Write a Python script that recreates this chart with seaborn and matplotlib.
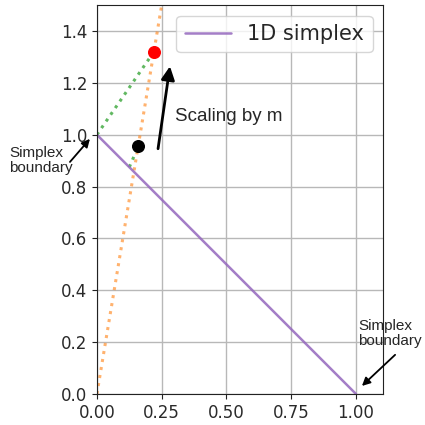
import matplotlib
matplotlib.use('Agg')
from matplotlib import pyplot as plt
import seaborn as sns

# chart values
simplex_x = [0.0, 1.0]
simplex_y = [1.0, 0.0]
ray_x = [0.0, 0.25]
ray_y = [0.0, 1.5]
green_x = [0.0, 0.22]
green_y = [1.0, 1.32]
green2_x = [0.125, 0.16]
green2_y = [0.875, 0.955]
black_pt = (0.16, 0.955)
red_pt = (0.22, 1.32)
x_ticks = [0.0, 0.25, 0.5, 0.75, 1.0]
y_ticks = [0.0, 0.2, 0.4, 0.6, 0.8, 1.0, 1.2, 1.4]

sns.set_style('ticks', {'axes.grid': True, 'grid.color': '#b8b8b8', 'axes.edgecolor': '#222222'})
plt.rcParams['font.family'] = ['DejaVu Sans']

fig, ax = plt.subplots(figsize=(4.25, 4.25), dpi=100)
fig.subplots_adjust(left=0.228, right=0.901, top=0.988, bottom=0.073)

ax.plot(ray_x, ray_y, color='C1', ls=':', lw=2.2, alpha=0.6)
ax.plot(green_x, green_y, color='C2', ls=':', lw=2.2, alpha=0.75)
ax.plot(green2_x, green2_y, color='C2', ls=':', lw=2.2, alpha=0.75)
sns.lineplot(x=simplex_x, y=simplex_y, ax=ax, color='C4', lw=1.8, alpha=0.85, label='1D simplex')
ax.scatter([black_pt[0]], [black_pt[1]], color='black', s=70, zorder=5)
ax.scatter([red_pt[0]], [red_pt[1]], color='red', s=70, zorder=5)

ax.set_xlim(0, 1.104)
ax.set_ylim(0, 1.5)
ax.set_xticks(x_ticks)
ax.set_yticks(y_ticks)
ax.tick_params(labelsize=12, color='#222222', labelcolor='#2a2a2a')
ax.grid(True, lw=1)

# scaling arrow
ax.annotate('', xy=(0.282, 1.264), xytext=(0.236, 0.946),
            arrowprops=dict(arrowstyle='-|>', color='black', lw=2, mutation_scale=20, shrinkA=0, shrinkB=0))
ax.text(0.30, 1.07, 'Scaling by m', fontsize=13.5, family='Liberation Sans', va='center', ha='left')

# simplex boundary notes
ax.annotate('', xy=(-0.027, 0.984), xytext=(-0.104, 0.895), annotation_clip=False,
            arrowprops=dict(arrowstyle='-|>', color='black', lw=1.3, mutation_scale=12, shrinkA=0, shrinkB=0))
ax.text(-0.338, 0.9, 'Simplex\nboundary', fontsize=11, family='Liberation Sans',
        va='center', ha='left', linespacing=1.15, clip_on=False)
ax.annotate('', xy=(1.023, 0.031), xytext=(1.151, 0.151), annotation_clip=False,
            arrowprops=dict(arrowstyle='-|>', color='black', lw=1.3, mutation_scale=12, shrinkA=0, shrinkB=0))
ax.text(1.008, 0.233, 'Simplex\nboundary', fontsize=11, family='Liberation Sans',
        va='center', ha='left', linespacing=1.15, clip_on=False)

ax.legend(loc='upper right', fontsize=15, handlelength=2.2)

fig.savefig('out.png', dpi=100)
